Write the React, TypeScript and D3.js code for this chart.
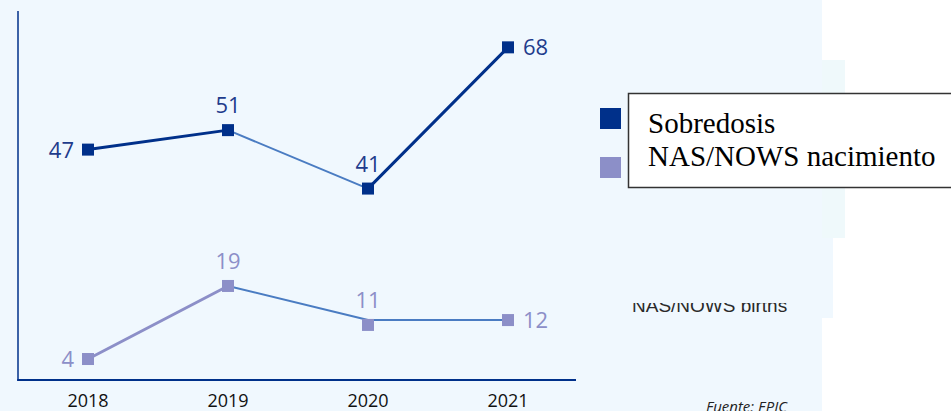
import React from "react";
import * as d3 from "d3";

const years = ["2018", "2019", "2020", "2021"];
const sobredosisMarkers = [47, 51, 39, 68];
const sobredosisLine = [47, 51, 39, 68];
const sobredosisLabels = ["47", "51", "41", "68"];
const nasMarkers = [4, 19, 11, 12];
const nasLine = [4, 19, 12, 12];
const nasLabels = ["4", "19", "11", "12"];
const legendLabels = ["Sobredosis", "NAS/NOWS nacimiento"];

const W = 951;
const H = 411;
const NAVY = "#00308a";
const MID = "#4a7cc2";
const LAV = "#8c8fc8";
const BG = "#f0f8fe";
const FONT = "'Open Sans', 'Noto Sans', sans-serif";

export default function App() {
  const x = d3.scalePoint<string>().domain(years).range([88, 508]);
  const y = d3.scaleLinear().domain([0, 75]).range([378.5, 13.25]);

  const segs = (vals: number[], colors: string[], width: number[]) =>
    vals.slice(0, -1).map((v, i) => {
      const line = d3
        .line<[string, number]>()
        .x((d) => x(d[0]) as number)
        .y((d) => y(d[1]));
      return (
        <path
          key={i}
          d={line([
            [years[i], v],
            [years[i + 1], vals[i + 1]],
          ]) as string}
          stroke={colors[i]}
          strokeWidth={width[i]}
          fill="none"
          strokeLinecap="round"
        />
      );
    });

  const ms = 12;

  const topPlace = ["left", "above", "above", "right"];
  const nasPlace = ["left", "above", "above", "right"];

  const label = (
    vals: number[],
    labels: string[],
    place: string[],
    color: string
  ) =>
    vals.map((v, i) => {
      const cx = x(years[i]) as number;
      const cy = y(v);
      const p = place[i];
      let tx = cx,
        ty = cy,
        anchor: "start" | "middle" | "end" = "middle";
      if (p === "left") {
        tx = cx - 14;
        ty = cy + 8;
        anchor = "end";
      } else if (p === "right") {
        tx = cx + 15;
        ty = cy + 8;
        anchor = "start";
      } else {
        ty = cy - 17;
      }
      return (
        <text
          key={i}
          x={tx}
          y={ty}
          textAnchor={anchor}
          fill={color}
          fontSize={22}
          fontFamily={FONT}
        >
          {labels[i]}
        </text>
      );
    });

  return (
    <svg
      width={W}
      height={H}
      style={{ position: "absolute", left: 0, top: 0, background: "#fff" }}
    >
      <defs>
        <clipPath id="birthsClip">
          <rect x={600} y={303} width={240} height={20} />
        </clipPath>
      </defs>
      <rect x={0} y={0} width={822} height={H} fill={BG} />
      <rect x={822} y={60} width={23} height={178} fill="#eff9fb" />
      <rect x={822} y={238} width={11} height={80} fill={BG} />

      <text
        x={632}
        y={312}
        fontSize={19}
        fontFamily="'Liberation Sans', Arial, sans-serif"
        fill="#2a2a2a"
        clipPath="url(#birthsClip)"
      >
        NAS/NOWS births
      </text>

      <line x1={18} x2={18} y1={11} y2={381} stroke={NAVY} strokeWidth={1.5} />
      <line x1={17.25} x2={576} y1={380} y2={380} stroke={NAVY} strokeWidth={2} />
      {years.map((yr) => (
        <text
          key={yr}
          x={x(yr)}
          y={407}
          textAnchor="middle"
          fontSize={18}
          fontFamily={FONT}
          fill="#111"
        >
          {yr}
        </text>
      ))}

      {segs(sobredosisLine, [NAVY, MID, NAVY], [3, 2, 3])}
      {segs(nasLine, [LAV, MID, MID], [3, 2, 2])}

      {sobredosisMarkers.map((v, i) => (
        <rect
          key={"s" + i}
          x={(x(years[i]) as number) - ms / 2}
          y={y(v) - ms / 2}
          width={ms}
          height={ms}
          fill={NAVY}
        />
      ))}
      {nasMarkers.map((v, i) => (
        <rect
          key={"n" + i}
          x={(x(years[i]) as number) - ms / 2}
          y={y(v) - ms / 2}
          width={ms}
          height={ms}
          fill={LAV}
        />
      ))}

      {label(sobredosisMarkers, sobredosisLabels, topPlace, "#1f3c8c")}
      {label(nasMarkers, nasLabels, nasPlace, "#8c8fc8")}

      <text
        x={706}
        y={412}
        fontSize={15}
        fontStyle="italic"
        fontFamily={FONT}
        fill="#222"
      >
        Fuente: EPIC
      </text>

      <rect x={600} y={108} width={21} height={21} fill={NAVY} />
      <rect x={600} y={157} width={21} height={21} fill={LAV} />

      <rect
        x={628.5}
        y={93.5}
        width={340}
        height={94}
        fill="#fff"
        stroke="#333"
        strokeWidth={1.5}
      />
      {legendLabels.map((t, i) => (
        <text
          key={t}
          x={648}
          y={133 + i * 33}
          fontSize={29}
          fontFamily="'Liberation Serif', 'Times New Roman', serif"
          fill="#000"
        >
          {t}
        </text>
      ))}
    </svg>
  );
}
